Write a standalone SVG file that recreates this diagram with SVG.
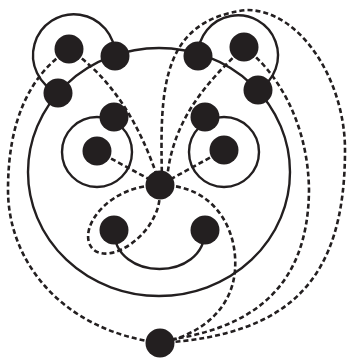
<svg xmlns="http://www.w3.org/2000/svg" width="347" height="359" viewBox="0 0 347 359">
<style>
.s{fill:none;stroke:#231f20;stroke-width:2.4}
.d{fill:none;stroke:#231f20;stroke-width:2.6;stroke-dasharray:5 3}
.n{fill:#231f20}
</style>
<rect width="347" height="359" fill="#fff"/>
<g id="connectors">
<ellipse class="s" cx="159" cy="172" rx="131" ry="124"/>
<path class="s" d="M58 93 A41 41 0 1 1 115 56"/>
<path class="s" d="M198 56 A40 40 0 1 1 258 90"/>
<circle class="s" cx="97" cy="152" r="35"/>
<circle class="s" cx="224" cy="152" r="35"/>
<path class="s" d="M114 230 C114 282 205 282 205 230"/>
<path class="d" d="M69 49 Q130 90 160 185"/>
<path class="d" d="M97 151 L160 185"/>
<path class="d" d="M224 150 L160 185"/>
<path class="d" d="M69 49 C30 75 8 120 8 190 C8 260 60 330 160 343"/>
<path class="d" d="M162 180 C160 90 160 20 247 10 C300 10 345 80 345 150 C345 280 290 335 160 343"/>
<path class="d" d="M244 47 C275 70 308 120 309 190 C308 290 250 330 160 341"/>
<path class="d" d="M244 47 C215 75 172 115 167 180"/>
<path class="d" d="M160 185 C215 185 238 230 235 270 C232 310 200 335 160 343"/>
<path class="d" d="M160 185 C110 185 80 225 90 245 C100 265 140 248 155 215 C160 205 160 195 160 185"/>
</g>
<g id="A"><circle class="n" cx="69" cy="49" r="14.5"/></g>
<g id="B"><circle class="n" cx="115" cy="56" r="14.5"/></g>
<g id="C"><circle class="n" cx="58" cy="93" r="14.5"/></g>
<g id="D"><circle class="n" cx="114" cy="117" r="14.5"/></g>
<g id="E"><circle class="n" cx="97" cy="151" r="14.5"/></g>
<g id="F"><circle class="n" cx="198" cy="56" r="14.5"/></g>
<g id="G"><circle class="n" cx="244" cy="47" r="14.5"/></g>
<g id="H"><circle class="n" cx="258" cy="90" r="14.5"/></g>
<g id="I"><circle class="n" cx="205" cy="117" r="14.5"/></g>
<g id="J"><circle class="n" cx="224" cy="150" r="14.5"/></g>
<g id="K"><circle class="n" cx="160" cy="185" r="14.5"/></g>
<g id="L"><circle class="n" cx="114" cy="230" r="14.5"/></g>
<g id="M"><circle class="n" cx="205" cy="230" r="14.5"/></g>
<g id="N"><circle class="n" cx="160" cy="343" r="14.5"/></g>
</svg>
